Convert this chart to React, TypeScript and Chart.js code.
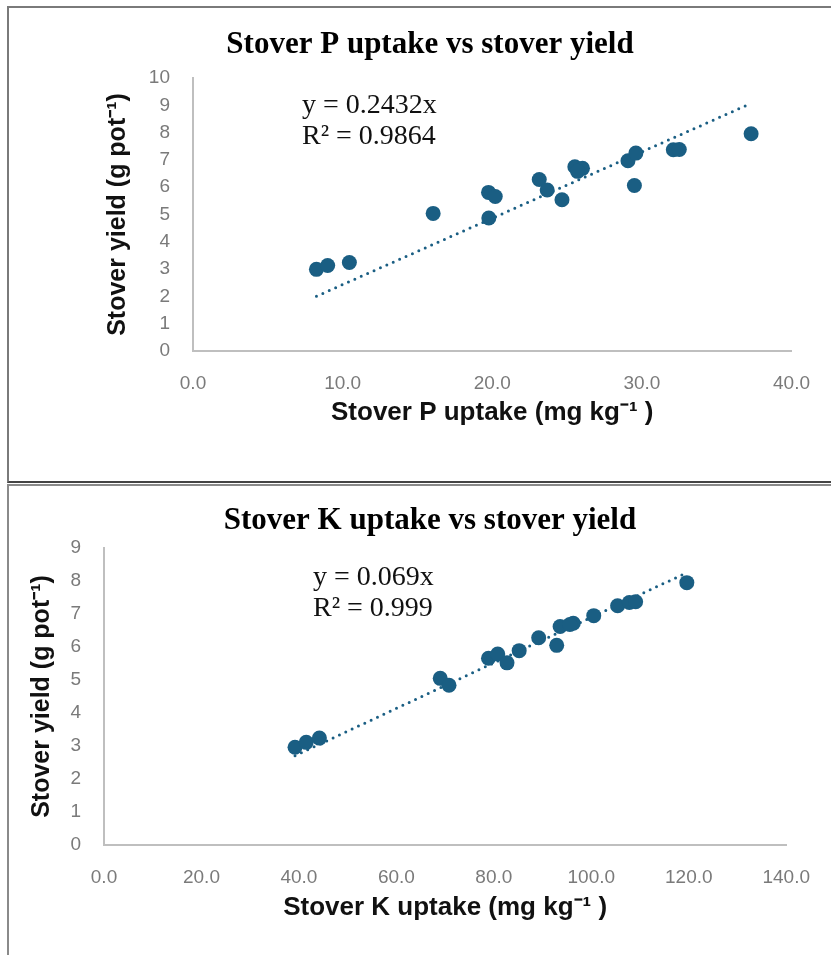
import React, { useEffect, useRef } from "react";
import { Chart, registerables } from "chart.js";
Chart.register(...registerables);

// ---- data: Stover P uptake vs stover yield ----
const pUptake = [8.25, 9.0, 10.45, 16.05, 19.75, 20.2, 19.77, 23.14, 23.67, 24.66, 25.52, 26.03, 25.7, 29.07, 29.6, 29.5, 32.1, 32.5, 37.3];
const pYield = [2.99, 3.13, 3.24, 5.04, 5.81, 5.66, 4.87, 6.28, 5.9, 5.54, 6.75, 6.69, 6.58, 6.97, 7.25, 6.06, 7.37, 7.38, 7.96];
const pSlope = 0.2432;
const pR2 = "0.9864";

// ---- data: Stover K uptake vs stover yield ----
const kUptake = [39.2, 41.5, 44.2, 69.0, 70.8, 78.9, 80.8, 82.7, 85.2, 89.2, 92.9, 93.6, 96.3, 95.6, 100.5, 105.4, 107.8, 109.1, 119.6];
const kYield = [2.96, 3.11, 3.24, 5.05, 4.84, 5.66, 5.79, 5.52, 5.89, 6.28, 6.05, 6.62, 6.72, 6.68, 6.95, 7.25, 7.35, 7.37, 7.95];
const kSlope = 0.069;
const kR2 = "0.999";

// ---- text ----
const pTitle = "Stover P uptake vs stover yield";
const kTitle = "Stover K uptake vs stover yield";
const yTitle = "Stover yield (g pot\u207B\u00B9)";
const pXTitle = "Stover P uptake (mg kg\u207B\u00B9 )";
const kXTitle = "Stover K uptake (mg kg\u207B\u00B9 )";

// ---- axis ranges ----
const pXMax = 40, pXStep = 10, pYMax = 10;
const kXMax = 140, kXStep = 20, kYMax = 9;

const SERIF = "'Liberation Serif', 'Times New Roman', serif";
const NARROW = "'Liberation Sans Narrow', 'Liberation Sans', Arial, sans-serif";
const SANS = "'Liberation Sans', Arial, sans-serif";
const MARK = "#1a5e83";

type PanelProps = {
  xs: number[]; ys: number[]; slope: number; r2: string;
  title: string; xTitle: string; xMax: number; xStep: number; yMax: number;
  top: number; height: number;
  padLeft: number; padRight: number; yAxisW: number; xAxisH: number;
  titlePadTop: number; titlePadBottom: number;
  yTitlePad: number; xTitlePad: number;
  eqDx: number; eqDy: number;
};

function Panel(p: PanelProps) {
  const ref = useRef<HTMLCanvasElement | null>(null);
  useEffect(() => {
    const pts = p.xs.map((x, i) => ({ x, y: p.ys[i] }));
    const xmin = Math.min(...p.xs);
    const xmax = Math.max(...p.xs);
    const trend = [{ x: xmin, y: p.slope * xmin }, { x: xmax, y: p.slope * xmax }];
    const eqPlugin = {
      id: "eq",
      afterDatasetsDraw(chart: any) {
        const { ctx, chartArea } = chart;
        ctx.save();
        ctx.fillStyle = "#111";
        ctx.font = `28px ${SERIF}`;
        ctx.textAlign = "left";
        ctx.textBaseline = "middle";
        ctx.fillText(`y = ${p.slope}x`, chartArea.left + p.eqDx, chartArea.top + p.eqDy);
        ctx.fillText(`R\u00B2 = ${p.r2}`, chartArea.left + p.eqDx, chartArea.top + p.eqDy + 31);
        ctx.restore();
      },
    };
    const tickFont = { family: NARROW, size: 19 };
    const chart = new Chart(ref.current as HTMLCanvasElement, {
      type: "scatter",
      data: {
        datasets: [
          {
            type: "scatter",
            data: pts,
            backgroundColor: MARK,
            borderWidth: 0,
            pointRadius: 7.5,
            pointHoverRadius: 7.5,
            order: 1,
          } as any,
          {
            type: "line",
            data: trend,
            borderColor: MARK,
            borderWidth: 3,
            borderDash: [0, 7],
            borderCapStyle: "round",
            pointRadius: 0,
            fill: false,
            order: 2,
          } as any,
        ],
      },
      options: {
        animation: false,
        responsive: false,
        events: [],
        layout: { padding: { left: p.padLeft, right: p.padRight, top: 0, bottom: 0 } },
        plugins: {
          legend: { display: false },
          tooltip: { enabled: false },
          title: {
            display: true,
            text: p.title,
            color: "#000",
            font: { family: SERIF, size: 31, weight: "bold", lineHeight: 1.2 },
            padding: { top: p.titlePadTop, bottom: p.titlePadBottom },
          },
        },
        scales: {
          x: {
            type: "linear",
            min: 0,
            max: p.xMax,
            grid: { display: false, drawTicks: false },
            border: { display: true, color: "#bfbfbf", width: 2 },
            ticks: {
              stepSize: p.xStep,
              color: "#7a7a7a",
              font: tickFont,
              padding: 21,
              maxRotation: 0,
              callback: (v: any) => Number(v).toFixed(1),
            },
            title: {
              display: true,
              text: p.xTitle,
              color: "#111",
              font: { family: NARROW, size: 26, weight: "bold", lineHeight: 1.2 },
              padding: { top: 0, bottom: p.xTitlePad },
            },
            afterFit: (s: any) => { s.height = p.xAxisH; },
          },
          y: {
            type: "linear",
            min: 0,
            max: p.yMax,
            grid: { display: false, drawTicks: false },
            border: { display: true, color: "#bfbfbf", width: 2 },
            ticks: { stepSize: 1, color: "#7a7a7a", font: tickFont, padding: 23 },
            title: {
              display: true,
              text: yTitle,
              color: "#111",
              font: { family: SANS, size: 25, weight: "bold", lineHeight: 1.2 },
              padding: { top: p.yTitlePad, bottom: 0 },
            },
            afterFit: (s: any) => { s.width = p.yAxisW; },
          },
        },
      },
      plugins: [eqPlugin],
    } as any);
    return () => chart.destroy();
  }, []);
  return (
    <canvas
      ref={ref}
      width={831}
      height={p.height}
      style={{ position: "absolute", left: 0, top: p.top, width: 831, height: p.height }}
    />
  );
}

export default function App() {
  return (
    <div style={{ position: "fixed", left: 0, top: 0, width: 831, height: 955, overflow: "hidden", background: "#fff" }}>
      <div style={{ position: "absolute", left: 7, top: 6, width: 900, height: 477, boxSizing: "border-box", border: "2px solid #7a7a7a", borderBottomColor: "#444" }} />
      <div style={{ position: "absolute", left: 7, top: 484, width: 900, height: 520, boxSizing: "border-box", border: "2px solid #8a8a8a" }} />
      <Panel
        xs={pUptake} ys={pYield} slope={pSlope} r2={pR2}
        title={pTitle} xTitle={pXTitle} xMax={pXMax} xStep={pXStep} yMax={pYMax}
        top={0} height={483}
        padLeft={62} padRight={33} yAxisW={131} xAxisH={132}
        titlePadTop={26.4} titlePadBottom={14.4}
        yTitlePad={41} xTitlePad={54.4}
        eqDx={109} eqDy={28}
      />
      <Panel
        xs={kUptake} ys={kYield} slope={kSlope} r2={kR2}
        title={kTitle} xTitle={kXTitle} xMax={kXMax} xStep={kXStep} yMax={kYMax}
        top={485} height={470}
        padLeft={70} padRight={41} yAxisW={34} xAxisH={110}
        titlePadTop={17.4} titlePadBottom={8.4}
        yTitlePad={-43} xTitlePad={31.4}
        eqDx={209} eqDy={30}
      />
    </div>
  );
}
